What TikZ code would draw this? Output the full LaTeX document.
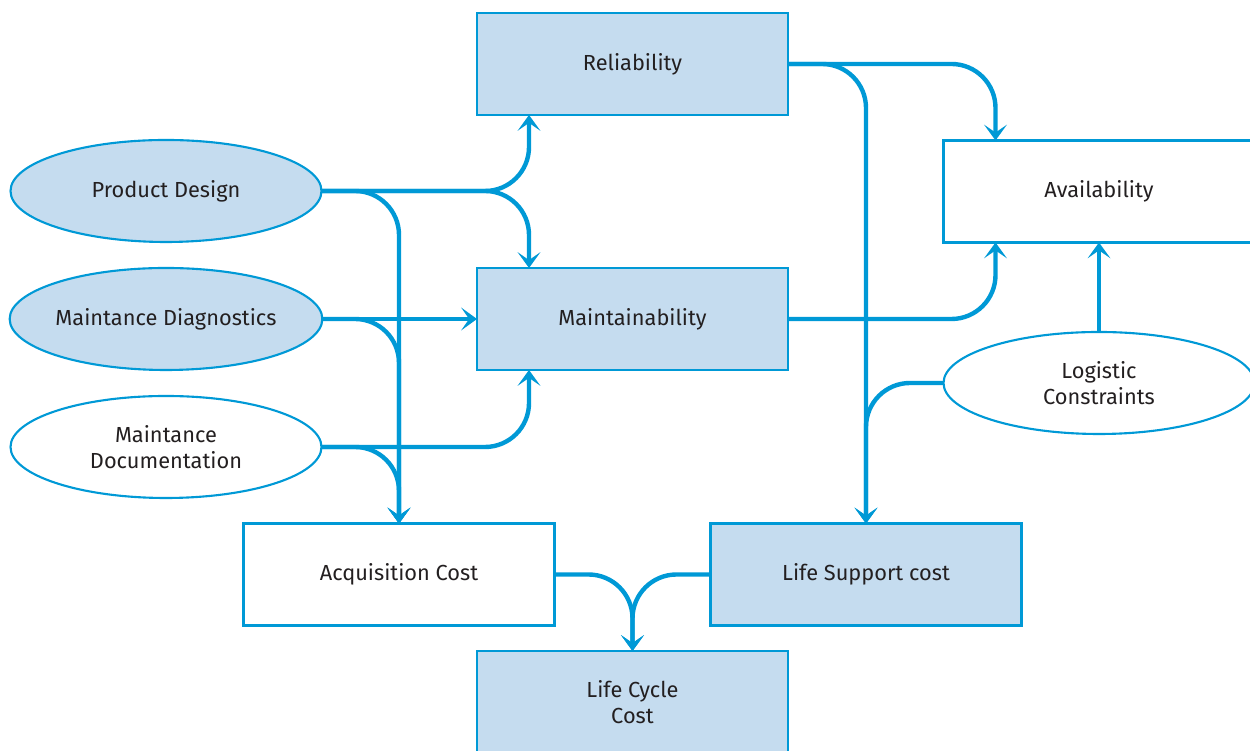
\documentclass[tikz,border=0pt]{standalone}
\usepackage{fontspec}
\setmainfont{Fira Sans}
\usepackage{xcolor}
\usepackage{tikz}
\usetikzlibrary{shapes,positioning,arrows.meta,calc}

\definecolor{lineblue}{RGB}{0,153,214}
\definecolor{fillblue}{RGB}{197,220,239}
\definecolor{textblack}{RGB}{35,31,32}

\begin{document}
\begin{tikzpicture}[
	%	style def
    scale=1,
    block/.style={draw=lineblue, line width=1.2pt, minimum width=6.22cm, minimum height=2.04cm, inner sep=0pt, outer sep=0pt, align=center, text=textblack, font=\fontsize{12.4}{14.4}\selectfont},
    block fill/.style={block, fill=fillblue},
    oval/.style={block, ellipse},
    oval fill/.style={oval, fill=fillblue},
    important line/.style={draw=lineblue, line width=2.5pt, rounded corners=0.88cm},
    flow/.style={important line, -{Stealth[length=9pt,width=13pt,inset=4.5pt]}}
    ]
    \useasboundingbox (0,0) rectangle (25,15.02);

	% boxes
    \node[block fill] (rel) at (12.65,13.74) {Reliability};
    \node[block fill] (mnt) at (12.65,8.64) {Maintainability};
    \node[block] (avail) at (21.98,11.19) {Availability};
    \node[block] (acq) at (7.98,3.53) {Acquisition Cost};
    \node[block fill] (lsc) at (17.32,3.53) {Life Support cost};
    \node[block fill] (lcc) at (12.65,0.98) {Life Cycle\\Cost};

    % ovals on the left and the right
    \node[oval fill] (pd) at (3.32,11.2) {Product Design};
    \node[oval fill] (mdg) at (3.32,8.64) {Maintance Diagnostics};
    \node[oval] (mdoc) at (3.32,6.08) {Maintance\\Documentation};
    \node[oval] (lc) at (21.98,7.36) {Logistic\\Constraints};

    % side entry points
    \coordinate (relin) at ([xshift=1.04cm]rel.south west);
    \coordinate (mntin) at ([xshift=1.04cm]mnt.north west);
    \coordinate (mntbot) at ([xshift=1.04cm]mnt.south west);
    \coordinate (avtop) at ([xshift=1.04cm]avail.north west);
    \coordinate (avbot) at ([xshift=1.04cm]avail.south west);

    % connections
    \draw[flow] (pd.east) -- (pd.east -| relin) -- (relin);
    \draw[flow] (pd.east) -- (pd.east -| mntin) -- (mntin);
    \draw[flow] (pd.east) -- (pd.east -| acq.north) -- (acq.north);
    \draw[flow] (mdg.east) -- (mnt.west);
    \draw[flow] (mdg.east) -- (mdg.east -| acq.north) -- (acq.north);
    \draw[flow] (mdoc.east) -- (mdoc.east -| mntbot) -- (mntbot);
    \draw[flow] (mdoc.east) -- (mdoc.east -| acq.north) -- (acq.north);
    \draw[flow] (rel.east) -- (rel.east -| avtop) -- (avtop);
    \draw[flow] (rel.east) -- (rel.east -| lsc.north) -- (lsc.north);
    \draw[flow] (mnt.east) -- (mnt.east -| avbot) -- (avbot);
    \draw[flow] (lc.north) -- (avail.south);
    \draw[flow] (lc.west) -- (lc.west -| lsc.north) -- (lsc.north);
    %costs into life cycle
    \draw[flow] (acq.east) -- (acq.east -| lcc.north) -- (lcc.north);
    \draw[flow] (lsc.west) -- (lsc.west -| lcc.north) -- (lcc.north);
\end{tikzpicture}
\end{document}
